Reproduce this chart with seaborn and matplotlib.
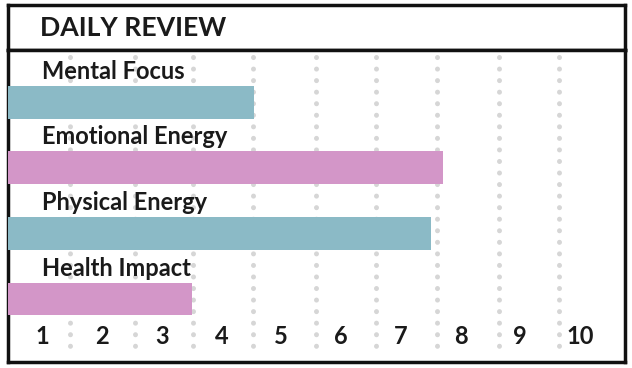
import matplotlib
matplotlib.use("Agg")
import matplotlib.pyplot as plt
import seaborn as sns

# chart data
categories = ["Mental Focus", "Emotional Energy", "Physical Energy", "Health Impact"]
scores = [4.55, 7.7, 7.5, 3.5]
bar_colors = ["#8bbac6", "#d396c8", "#8bbac6", "#d396c8"]
scale_ticks = [1, 2, 3, 4, 5, 6, 7, 8, 9, 10]
guide_pos = [1.47, 2.56, 3.53, 4.53, 5.58, 6.59, 7.61, 8.64, 9.65]
title = "DAILY REVIEW"

sns.set_theme(style="white")
plt.rcParams["font.family"] = ["Lato", "DejaVu Sans"]

W, H = 632, 368
fig = plt.figure(figsize=(W / 100, H / 100), dpi=100)


def px_box(x0, y0, x1, y1):
    # pixel box (top-left origin) -> figure fraction rect
    return [x0 / W, 1 - y1 / H, (x1 - x0) / W, (y1 - y0) / H]


# header strip
hdr = fig.add_axes(px_box(8, 5, 625, 50))
hdr.set_xticks([])
hdr.set_yticks([])
for s in hdr.spines.values():
    s.set_linewidth(2.5)
    s.set_color("#111111")
hdr.text(32 / 617, 0.5, title, transform=hdr.transAxes, va="center", ha="left",
         fontsize=19.2, fontweight="bold", color="#1a1a1a")

# main panel
ax = fig.add_axes(px_box(8, 50, 625, 362))
sns.barplot(x=scores, y=categories, hue=categories, palette=bar_colors,
            legend=False, width=0.5, orient="h", ax=ax, zorder=3,
            saturation=1, linewidth=0)

# dotted guides between the scale numbers
for g in guide_pos:
    ax.plot([g, g], [-0.69, 3.82], color="#d6d6d6", linewidth=3.6,
            linestyle=(0, (0.01, 2.3)), dash_capstyle="round", zorder=1)

# category captions above each bar
for i, name in enumerate(categories):
    ax.text(1, i - 0.47, name, ha="left", va="center", fontsize=17,
            fontweight="bold", color="#1a1a1a", zorder=4)

ax.set_xlim(0.43, 10.75)
ax.set_ylim(3.96, -0.794)
ax.set_yticks([])
ax.set_ylabel("")
ax.set_xticks(scale_ticks)
ax.set_xticklabels([str(t) for t in scale_ticks], fontsize=17,
                   fontweight="bold", color="#1a1a1a")
ax.tick_params(axis="x", length=0, pad=-27)
for s in ax.spines.values():
    s.set_linewidth(2.5)
    s.set_color("#111111")

fig.savefig("out.png", dpi=100)
